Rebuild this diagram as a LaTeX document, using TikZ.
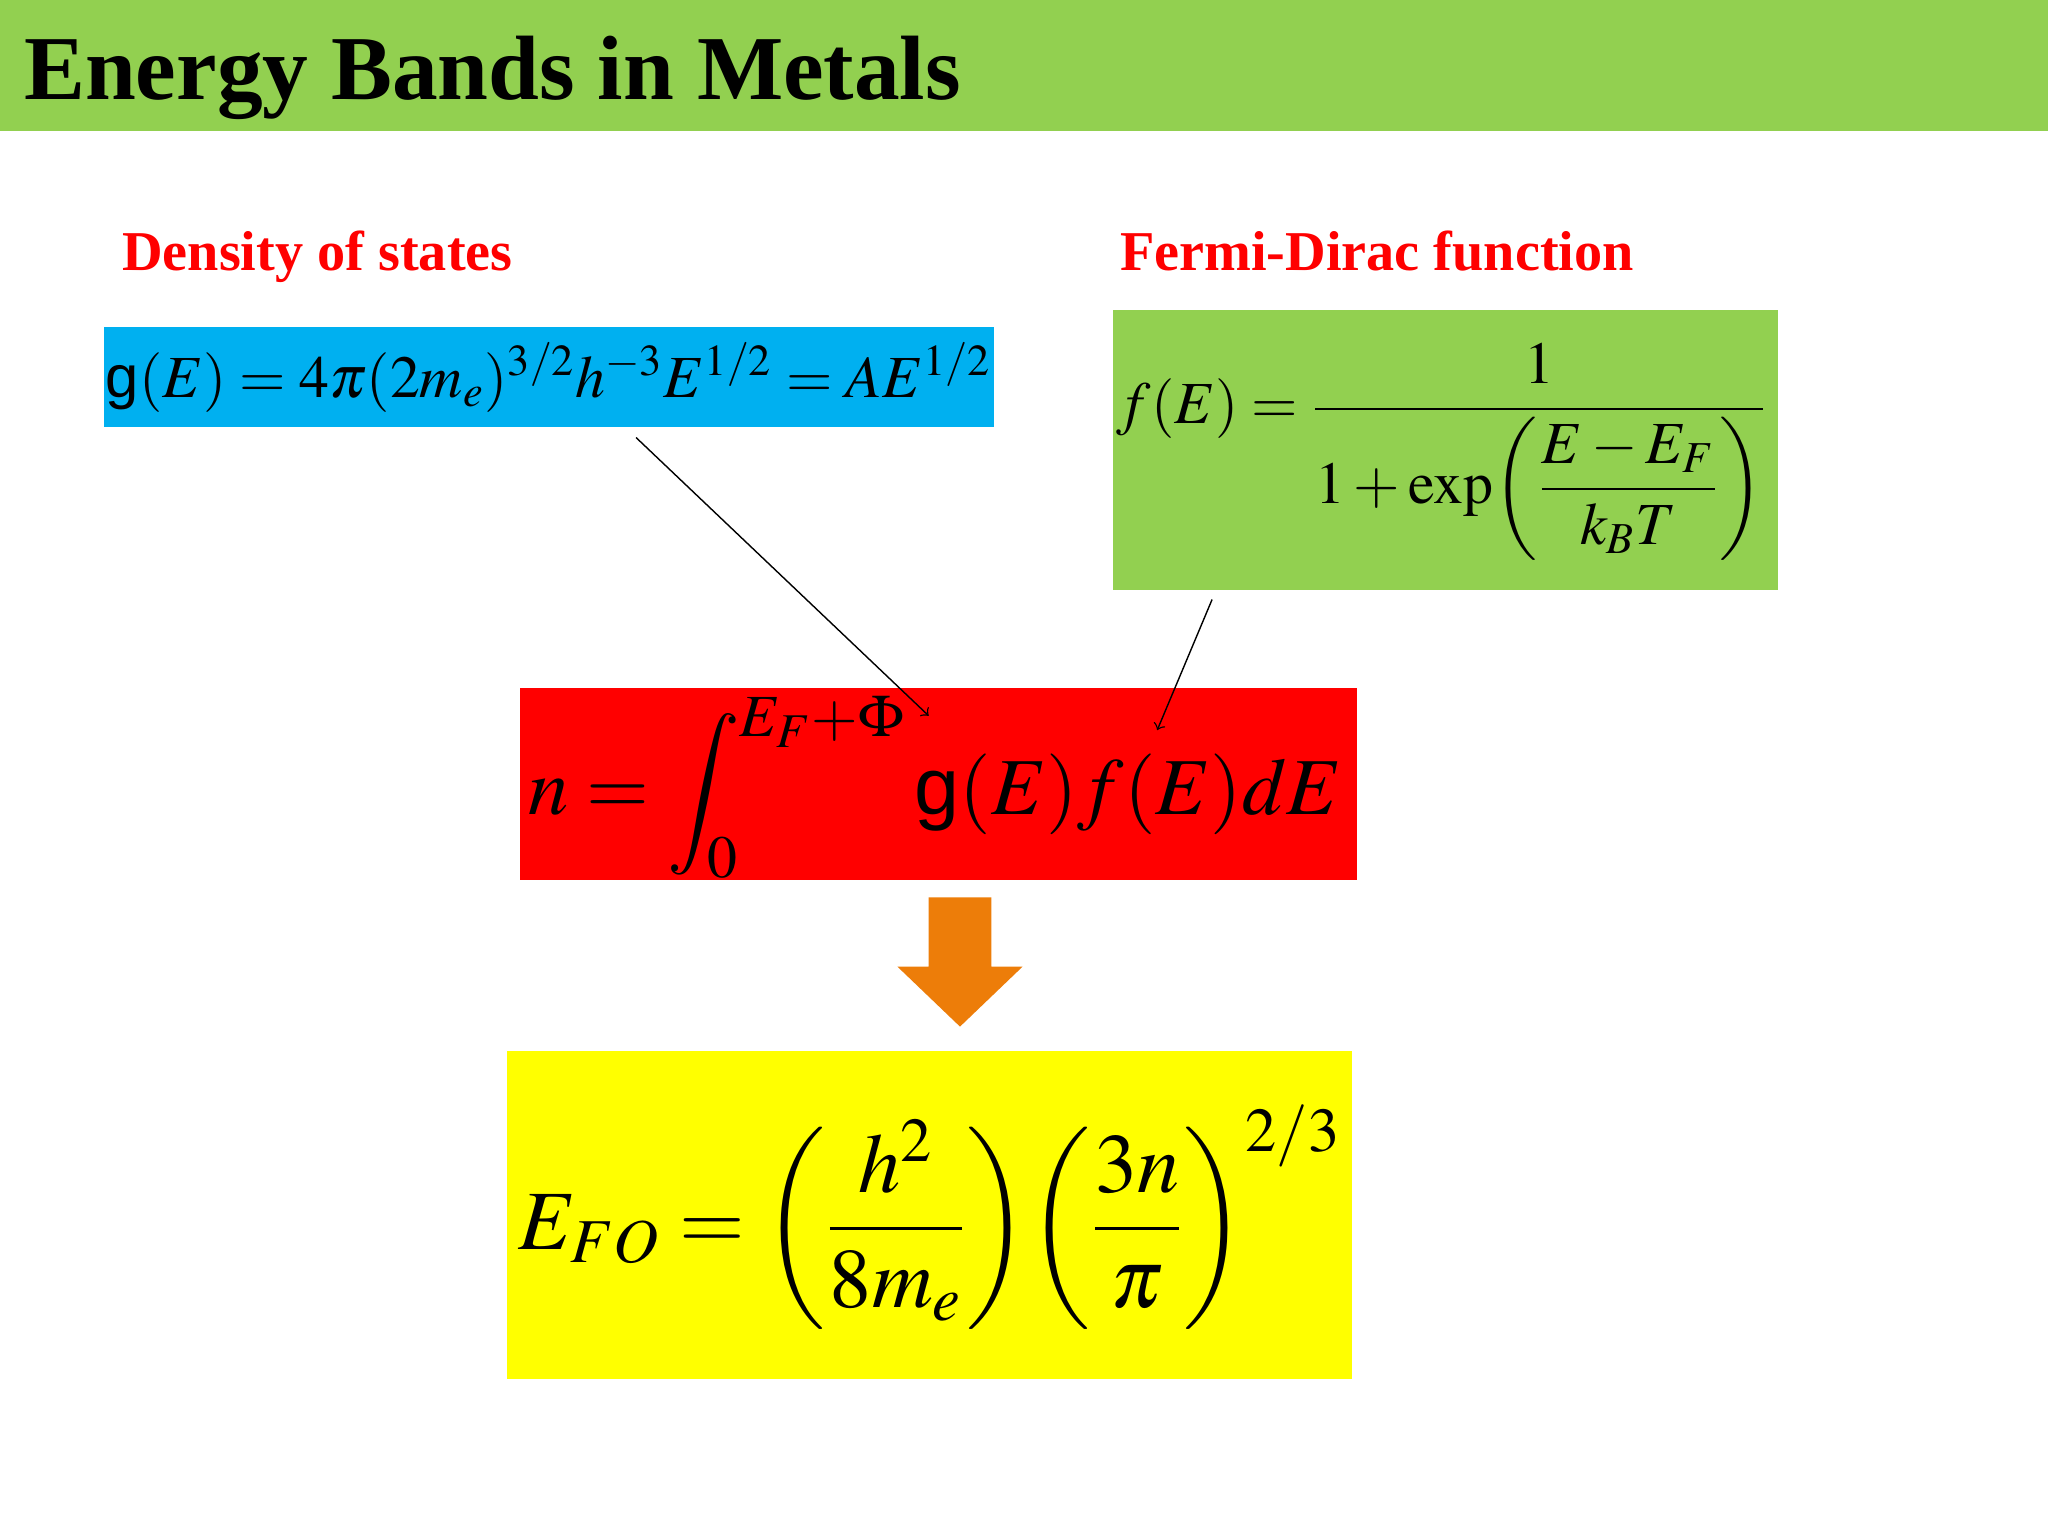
\documentclass[tikz,border=0pt]{standalone}
\usepackage{mathptmx}
\usepackage{amsmath}
\usepackage{fontspec}
\setmainfont{Liberation Serif}
\newfontfamily\sfg{Liberation Sans}
\newcommand{\gE}{\text{\sfg g}}
\definecolor{titlegreen}{RGB}{146,208,80}
\definecolor{boxblue}{RGB}{0,176,240}
\definecolor{arrorange}{RGB}{237,125,9}
\definecolor{boxyellow}{RGB}{255,255,0}
\begin{document}
\begin{tikzpicture}[x=0.01306cm,y=-0.01306cm,
  lbl/.style={text=red,font=\fontsize{16}{19}\selectfont\bfseries,anchor=base west,inner sep=0},
  eq/.style={inner sep=0}]
\useasboundingbox (0,0) rectangle (1568,1176);
\fill[white] (0,0) rectangle (1568,1176);
\fill[titlegreen] (0,0) rectangle (1568,100);
\node[anchor=base west,inner sep=0,font=\fontsize{26}{30}\selectfont\bfseries] (title) at (18,76) {Energy Bands in Metals};
\node[lbl] (l1) at (93,207) {Density of states};
\node[lbl] (l2) at (857,207) {Fermi-Dirac function};
\fill[boxblue] (80,250) rectangle (761,327);
\node[eq,font=\fontsize{17}{20}\selectfont] (g) at (420,289) {$\gE(E)=4\pi(2m_e)^{3/2}h^{-3}E^{1/2}=AE^{1/2}$};
\fill[titlegreen] (852,237) rectangle (1361,452);
\node[eq,font=\fontsize{17}{20}\selectfont] (f) at (1104,346) {$f(E)=\dfrac{1}{1+\exp\!\left(\dfrac{E-E_F}{k_BT}\right)}$};
\fill[red] (398,527) rectangle (1039,674);
\node[eq,font=\fontsize{23}{27}\selectfont] (n) at (716,603) {$n=\displaystyle\int_0^{E_F+\Phi}\gE(E)f(E)dE$};
\fill[arrorange] (711,687) -- (759,687) -- (759,740) -- (783,740) -- (735,786) -- (687,740) -- (711,740) -- cycle;
\fill[boxyellow] (388,805) rectangle (1035,1056);
\node[eq,font=\fontsize{24}{28}\selectfont] (e) at (712,932) {$E_{FO}=\left(\dfrac{h^2}{8m_e}\right)\!\left(\dfrac{3n}{\pi}\right)^{2/3}$};
\coordinate (a1) at (487,335);
\coordinate (b1) at (711,548);
\coordinate (a2) at (928,459);
\coordinate (b2) at (886,559);
\draw[->,thin] (a1) -- (b1);
\draw[->,thin] (a2) -- (b2);
\end{tikzpicture}
\end{document}
